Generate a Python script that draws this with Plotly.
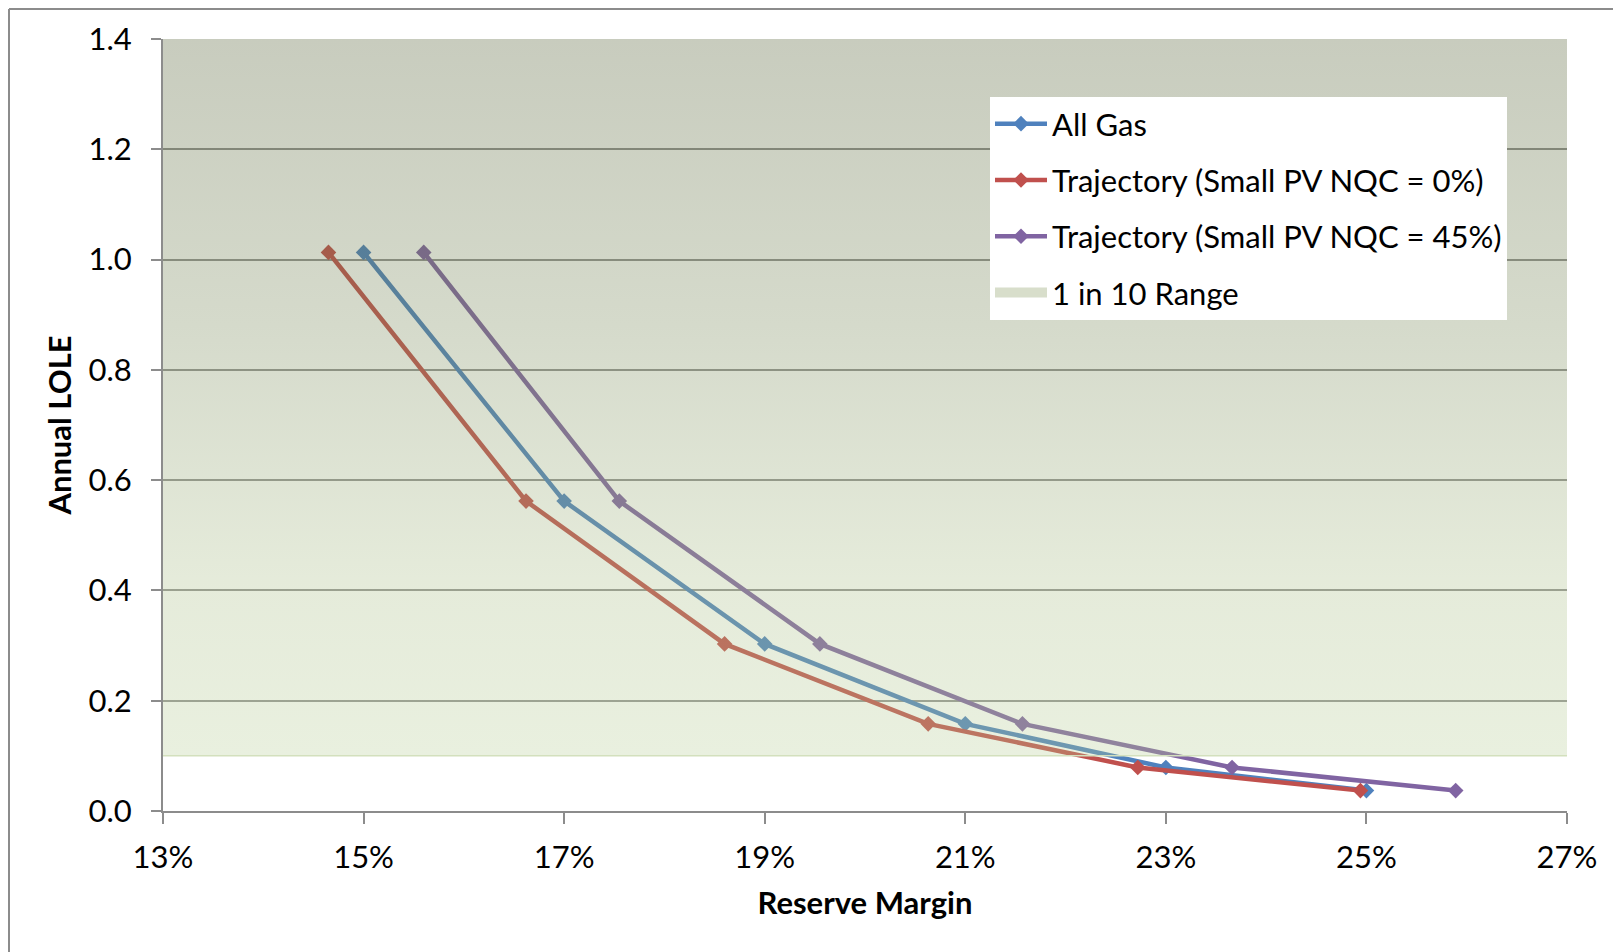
import plotly.graph_objects as go

# ---- data ----
reserve_all_gas = [15.00, 17.00, 19.00, 21.00, 23.00, 25.00]
reserve_traj_0 = [14.65, 16.62, 18.60, 20.63, 22.72, 24.94]
reserve_traj_45 = [15.60, 17.55, 19.55, 21.57, 23.66, 25.89]
lole_all_gas = [1.013, 0.562, 0.303, 0.158, 0.079, 0.037]
lole_traj_0 = [1.013, 0.562, 0.303, 0.158, 0.079, 0.037]
lole_traj_45 = [1.013, 0.562, 0.303, 0.158, 0.079, 0.037]

range_x = [13, 27, 27, 13, 13]          # "1 in 10 Range" band extent
range_y = [0.1, 0.1, 1.4, 1.4, 0.1]
range_low_x = [13, 27]
range_low_y = [0.1, 0.1]

series_names = ["All Gas", "Trajectory (Small PV NQC = 0%)", "Trajectory (Small PV NQC = 45%)"]
band_name = "1 in 10 Range"
x_ticks = [13, 15, 17, 19, 21, 23, 25, 27]
x_tick_text = ["13%", "15%", "17%", "19%", "21%", "23%", "25%", "27%"]
y_ticks = [0.0, 0.2, 0.4, 0.6, 0.8, 1.0, 1.2, 1.4]

colors = ["#4F81BD", "#C0504D", "#8064A2"]
FONT = "Lato"
FS = 31

W, H = 1613, 944          # page body has an 8px margin
L, T = 155, 31
PW, PH = 1404, 772

fig = go.Figure()

for i, (xs, ys) in enumerate([(reserve_all_gas, lole_all_gas),
                               (reserve_traj_0, lole_traj_0),
                               (reserve_traj_45, lole_traj_45)]):
    fig.add_trace(go.Scatter(
        x=xs, y=ys, mode="lines+markers", name=series_names[i],
        line=dict(color=colors[i], width=4.5),
        marker=dict(symbol="diamond", size=12, color=colors[i]),
        legendgroup=f"g{i}", hoverinfo="skip",
    ))

# translucent gradient band drawn over the lines
A = 0.3
def comp(r, g, b):
    f = lambda c: max(0, min(255, (c - (1 - A) * 255) / A))
    return f"rgba({f(r):.0f},{f(g):.0f},{f(b):.0f},{A})"

fig.add_trace(go.Scatter(
    x=range_x, y=range_y, mode="lines", fill="toself",
    line=dict(width=0), showlegend=False, hoverinfo="skip",
    fillgradient=dict(type="vertical", colorscale=[
        [0.0, comp(233, 240, 223)],
        [0.25, comp(229, 235, 218)],
        [0.6, comp(213, 218, 203)],
        [1.0, comp(200, 204, 190)],
    ]),
))
fig.add_trace(go.Scatter(
    x=range_low_x, y=range_low_y, mode="lines",
    line=dict(color="#D3E0BD", width=1.5), showlegend=False, hoverinfo="skip",
))
# legend entry for band
fig.add_trace(go.Scatter(
    x=[None], y=[None], mode="lines", name=band_name,
    line=dict(color="#D8DECB", width=10), legendgroup="g3",
))

top_border = (PH + T - 1) / PH
left_border = (1 - L) / PW

fig.update_layout(
    width=W, height=H,
    margin=dict(l=L, r=W - L - PW, t=T, b=H - T - PH),
    paper_bgcolor="white", plot_bgcolor="white",
    font=dict(family=FONT, size=FS, color="black"),
    showlegend=True,
    legend=dict(
        x=(990 - 8 - L) / PW, y=1 - (97 - 8 - T) / PH, xanchor="left", yanchor="top",
        bgcolor="white", borderwidth=0,
        font=dict(family=FONT, size=FS, color="black"),
        traceorder="grouped", tracegroupgap=13,
        itemwidth=52,
    ),
    xaxis=dict(
        range=[13, 27], tickvals=x_ticks, ticktext=x_tick_text,
        showgrid=False, zeroline=False,
        showline=True, linecolor="#8C8C8C", linewidth=2,
        ticks="outside", ticklen=11, tickwidth=2, tickcolor="#8C8C8C",
        ticklabelstandoff=7,
        title=dict(text="<b>Reserve Margin</b>", standoff=18,
                   font=dict(family=FONT, size=FS)),
        automargin=False,
    ),
    yaxis=dict(
        range=[0, 1.4], tickvals=y_ticks, tickformat=".1f",
        showgrid=True, gridcolor="#949494", gridwidth=2,
        zeroline=False,
        showline=True, linecolor="#8C8C8C", linewidth=2,
        ticks="outside", ticklen=10, tickwidth=2, tickcolor="#8C8C8C",
        ticklabelstandoff=13,
        title=dict(text="<b>Annual LOLE</b>", standoff=8,
                   font=dict(family=FONT, size=FS)),
        automargin=False,
    ),
    shapes=[
        dict(type="line", xref="paper", yref="paper",
             x0=left_border, x1=left_border, y0=-0.25, y1=top_border,
             line=dict(color="#8C8C8C", width=2)),
        dict(type="line", xref="paper", yref="paper",
             x0=left_border, x1=1.1, y0=top_border, y1=top_border,
             line=dict(color="#8C8C8C", width=2)),
    ],
)

fig.write_html("out.html")
